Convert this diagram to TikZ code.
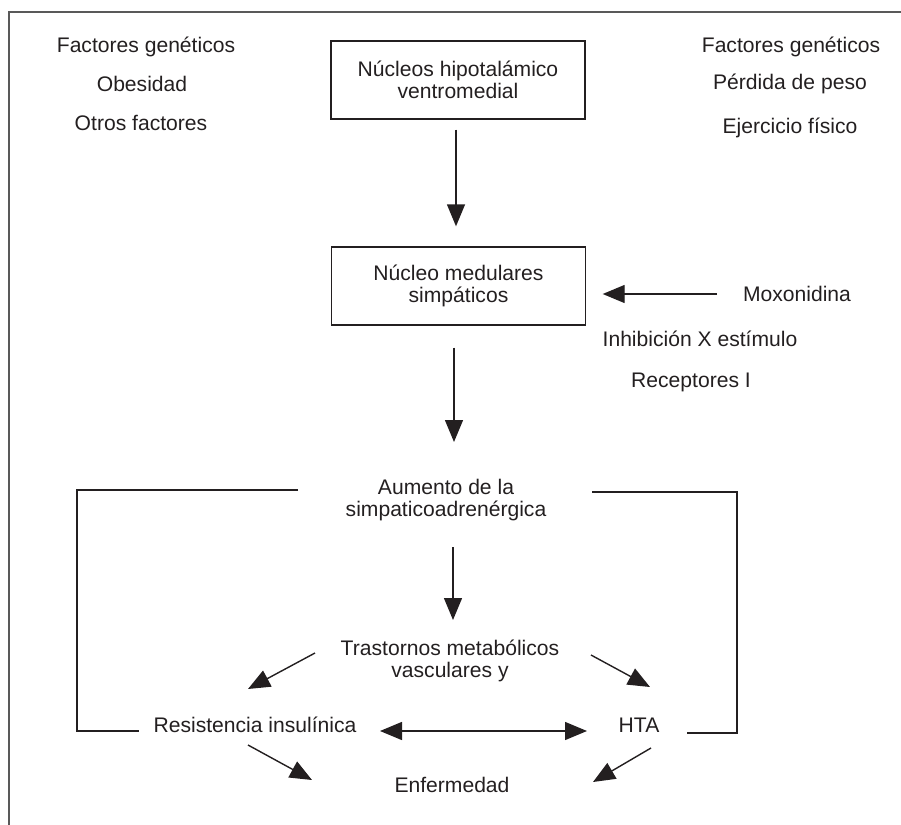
\documentclass[tikz,border=0pt]{standalone}
\usepackage{fontspec}
\setmainfont{Liberation Sans}
\usetikzlibrary{arrows.meta,calc}
\definecolor{ink}{HTML}{231F20}
\tikzset{
  txt/.style={inner sep=0pt, align=center, text=ink, font=\fontsize{10.55pt}{11pt}\selectfont},
  boxnode/.style={txt, draw=ink, line width=0.7pt, minimum width=127pt, minimum height=39pt},
  arr/.style={draw=ink, line width=0.7pt, -{Triangle[length=11pt,width=9pt]}},
  dblarr/.style={draw=ink, line width=0.7pt, {Triangle[length=11pt,width=9pt]}-{Triangle[length=11pt,width=9pt]}},
  link/.style={draw=ink, line width=0.7pt},
  frame/.style={draw=black!65, line width=0.8pt}
}
\begin{document}
\begin{tikzpicture}[x=0.5pt,y=-0.5pt]%simpatico
\useasboundingbox (0,0) rectangle (901,825);
\draw[frame] (9,825) -- (9,12) -- (901,12);
\node[txt] (gen1) at (146,47){Factores genéticos};
\node[txt] (obes) at (142,84){Obesidad};
\node[txt] (otros) at (141,123){Otros factores};
\node[txt] (gen2) at (791,47){Factores genéticos};
\node[txt] (peso) at (790,84){Pérdida de peso};
\node[txt] (ejer) at (790,128){Ejercicio físico};
\node[boxnode] (hipo) at (458,80){Núcleos hipotalámico\\ventromedial};
\node[boxnode] (medul) at (458.5,286){Núcleo medulares\\simpáticos};
\node[txt] (moxo) at (797,294){Moxonidina};
\node[txt] (inhib) at (700,339){Inhibición X estímulo};
\node[txt] (recep) at (691,382){Receptores I};
\node[txt] (aumento) at (446,500){Aumento de la\\simpaticoadrenérgica};
\node[txt] (trast) at (450,661){Trastornos metabólicos\\vasculares y};
\node[txt] (resis) at (255,725){Resistencia insulínica};
\node[txt] (hta) at (639,725){HTA};
\node[txt] (enf) at (452,785){Enfermedad};
\draw[arr] ($(hipo.south)+(-2,10)$) -- ($(medul.north)+(-2.5,-20)$);
\draw[arr] ($(moxo)+(-80,0)$) -- ($(medul.east)+(16.5,8)$);
\draw[arr] ($(medul.south)+(-4.5,22)$) -- ($(aumento)+(8,-58)$);
\draw[arr] ($(aumento)+(7,47)$) -- ($(trast)+(3,-41)$);
\draw[link] ($(aumento)+(-148,-10)$) -- ++(-221,0) |- ($(resis)+(-116,6)$);
\draw[link] ($(aumento)+(146,-8)$) -- ++(145,0) |- ($(hta)+(48,8)$);
\draw[arr] ($(trast)+(-135,-8)$) -- ($(resis)+(-7,-36)$);
\draw[arr] ($(trast)+(141,-6)$) -- ($(hta)+(11,-38)$);
\draw[dblarr] ($(resis)+(125,6)$) -- ($(hta)+(-52,6)$);
\draw[arr] ($(resis)+(-7,20)$) -- ($(enf)+(-140,-5)$);
\draw[arr] ($(hta)+(12,23)$) -- ($(enf)+(141,-3)$);
\end{tikzpicture}
\end{document}
